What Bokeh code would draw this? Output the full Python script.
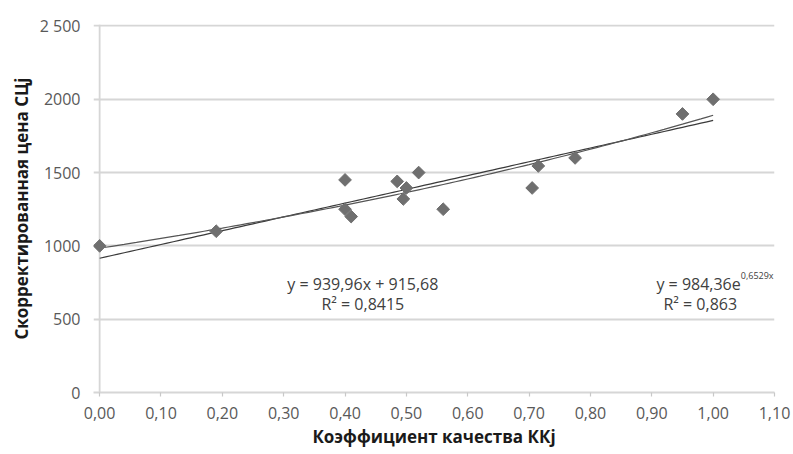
import numpy as np
from bokeh.plotting import figure
from bokeh.models import Range1d, FixedTicker, Label, Span
from bokeh.embed import file_html
from bokeh.resources import INLINE

# ---- data ----
kk = [0.00, 0.19, 0.40, 0.40, 0.41, 0.485, 0.495, 0.50, 0.52, 0.56, 0.705, 0.715, 0.775, 0.95, 1.00]
price = [1000, 1100, 1450, 1250, 1200, 1440, 1320, 1395, 1500, 1250, 1395, 1545, 1600, 1900, 2000]

x_ticks = [0.0, 0.1, 0.2, 0.3, 0.4, 0.5, 0.6, 0.7, 0.8, 0.9, 1.0, 1.1]
x_tick_labels = ["0,00", "0,10", "0,20", "0,30", "0,40", "0,50", "0,60", "0,70", "0,80", "0,90", "1,00", "1,10"]
y_ticks = [0, 500, 1000, 1500, 2000, 2500]
y_tick_labels = ["0", "500", "1000", "1500", "2000", "2 500"]

x_title = "Коэффициент качества ККj"
y_title = "Скорректированная цена СЦj"

lin_slope, lin_intercept = 939.96, 915.68
exp_coef, exp_rate = 984.36, 0.6529
fit_from, fit_to = 0.0, 1.0

lin_eq = "y = 939,96x + 915,68"
lin_r2 = "R² = 0,8415"
exp_eq = "y = 984,36e"
exp_pow = "0,6529x"
exp_r2 = "R² = 0,863"

FONT = "Open Sans"

p = figure(width=793, height=454,
           x_range=Range1d(-0.01, 1.1), y_range=Range1d(0, 2510),
           output_backend="svg", toolbar_location=None,
           min_border_left=93, min_border_right=19,
           min_border_top=24, min_border_bottom=62)
p.outline_line_color = None
p.xgrid.visible = False
p.ygrid.grid_line_color = "#d6d6d6"
p.ygrid.grid_line_width = 1.8

# axis line at x = 0
p.add_layout(Span(location=0, dimension="height", line_color="#d6d6d6",
                  line_width=1.8, level="underlay"))

xa = p.xaxis[0]
ya = p.yaxis[0]
xa.ticker = FixedTicker(ticks=x_ticks)
ya.ticker = FixedTicker(ticks=y_ticks)
xa.major_label_overrides = dict(zip(x_ticks, x_tick_labels))
ya.major_label_overrides = dict(zip(y_ticks, y_tick_labels))
for ax in (xa, ya):
    ax.minor_tick_line_color = None
    ax.major_label_text_font = FONT
    ax.major_label_text_font_size = "16px"
    ax.major_label_text_color = "#595959"
    ax.major_tick_line_color = "#c8c8c8"
    ax.major_tick_line_width = 1.2
    ax.major_tick_in = 0
    ax.axis_label_text_font = FONT
    ax.axis_label_text_font_style = "bold"
    ax.axis_label_text_font_size = "17px"
    ax.axis_label_text_color = "#1a1a1a"
xa.axis_line_color = "#d6d6d6"
xa.axis_line_width = 1.8
xa.major_tick_out = 4
xa.major_label_standoff = 10
xa.axis_label = x_title
xa.axis_label_standoff = 3
ya.axis_line_color = None
ya.major_tick_out = 0
ya.major_label_standoff = 13
ya.axis_label = y_title
ya.axis_label_standoff = 4

# trend lines
fx = np.linspace(fit_from, fit_to, 101)
p.line(fx, lin_slope * fx + lin_intercept, line_color="#3a3a3a", line_width=1.2)
p.line(fx, exp_coef * np.exp(exp_rate * fx), line_color="#555555", line_width=1.2)

# data points
p.scatter(kk, price, marker="square", size=9, angle=np.pi / 4,
          fill_color="#6f6f6f", line_color="#6f6f6f")

eq_style = dict(text_font=FONT, text_font_size="16px", text_color="#404040",
                text_baseline="alphabetic")
p.add_layout(Label(x=0.429, y=740, text=lin_eq, text_align="center", **eq_style))
p.add_layout(Label(x=0.429, y=606, text=lin_r2, text_align="center", **eq_style))
p.add_layout(Label(x=1.045, y=740, text=exp_eq, text_align="right", **eq_style))
p.add_layout(Label(x=1.045, y=740, y_offset=9, text=exp_pow, text_align="left",
                   text_font=FONT, text_font_size="9px", text_color="#404040",
                   text_baseline="alphabetic"))
p.add_layout(Label(x=0.979, y=606, text=exp_r2, text_align="center", **eq_style))

open("out.html", "w").write(file_html(p, INLINE))
